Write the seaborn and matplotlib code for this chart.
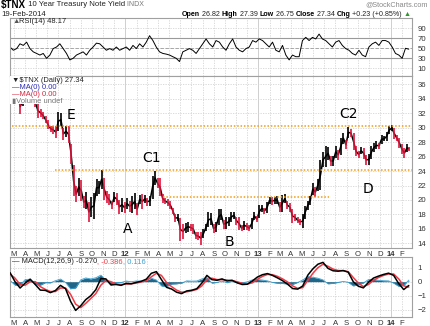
import numpy as np
import pandas as pd
import matplotlib
matplotlib.use("Agg")
import matplotlib.pyplot as plt
import matplotlib.dates as mdates
import seaborn as sns

# ---------------- data ----------------
week_low = [35.5, 34.1, 34.0, 33.6, 31.9, 33.0, 34.3, 34.5, 34.0, 33.6, 32.9, 31.4, 31.5, 31.2, 30.6,
            29.8, 29.4, 29.1, 28.6, 29.6, 30.2, 28.3, 28.7, 27.9, 25.0, 20.5, 19.7, 20.6, 19.9, 18.9,
            18.8, 17.0, 17.6, 17.4, 20.5, 20.8, 21.5, 20.0, 19.6, 19.3, 18.8, 19.7, 19.3, 18.1, 18.4,
            18.2,
            18.7, 18.4, 18.2, 18.7, 17.9, 19.5, 18.8, 19.6, 19.2, 19.2, 20.2, 22.1, 21.6, 20.5, 19.6,
            19.4, 19.2, 18.7, 18.1, 16.9, 17.1, 14.3, 14.6, 15.4, 15.6, 15.7, 15.3, 14.6, 14.4, 13.8,
            14.7, 15.7, 16.2, 16.6, 15.4, 15.6, 16.5, 17.3, 16.0, 16.0, 16.4, 16.9, 17.4, 16.6, 15.9,
            15.7, 15.9, 15.9, 15.7, 16.0, 17.2, 16.9,
            17.5, 18.4, 18.1, 18.2, 19.5, 19.3, 19.5, 19.5, 18.3, 18.4, 19.6, 18.8, 18.4, 16.8, 17.1,
            16.8, 16.6, 16.1, 17.4, 18.6, 19.3, 20.7, 20.4, 21.2, 21.4, 24.5, 24.6, 25.6, 24.7, 24.7,
            25.8, 25.6, 26.2, 27.8, 27.0, 28.6, 28.7, 26.9, 26.1, 25.8, 26.3, 25.7, 24.9, 24.8, 25.7,
            26.6, 27.0, 27.1, 27.8, 28.1, 28.2, 29.1,
            29.5, 28.4, 28.1, 27.2, 26.4, 25.8, 26.6, 26.75]
week_high = [36.3, 35.9, 35.8, 35.7, 33.9, 34.5, 35.4, 35.9, 35.8, 34.4, 33.9, 33.3, 32.6, 32.2, 31.6,
             31.0, 30.3, 30.3, 30.2, 32.2, 32.0, 30.0, 30.3, 30.3, 27.8, 24.8, 21.9, 23.0, 22.7, 20.5,
             21.1, 19.7, 20.4, 21.0, 22.9, 22.6, 24.2, 23.1, 21.2, 20.8, 19.9, 21.1, 20.9, 20.0, 20.3,
             19.7,
             20.3, 19.9, 20.5, 20.9, 19.6, 20.7, 20.8, 20.7, 20.3, 20.6, 23.3, 24.0, 23.0, 23.0, 20.8,
             20.3, 20.1, 19.9, 18.9, 18.1, 18.0, 17.5, 16.7, 16.8, 17.0, 16.7, 16.7, 15.6, 15.6, 15.6,
             16.0, 16.7, 18.3, 18.2, 16.7, 17.0, 18.8, 18.7, 17.3, 17.6, 17.6, 18.4, 18.4, 17.7, 17.6,
             16.5, 17.1, 16.8, 16.5, 17.5, 18.4, 17.8,
             19.3, 19.3, 18.9, 19.7, 20.4, 20.4, 20.4, 20.5, 19.7, 20.7, 20.8, 19.8, 19.6, 18.8, 18.1,
             17.6, 17.4, 18.0, 19.2, 19.9, 20.6, 22.3, 21.8, 22.9, 25.5, 26.6, 27.4, 27.3, 26.1, 26.1,
             27.5, 26.9, 28.6, 29.3, 28.3, 30.1, 29.8, 29.3, 27.4, 26.8, 27.3, 27.2, 26.2, 26.4, 27.5,
             27.9, 28.1, 27.9, 29.0, 28.8, 29.4, 30.2,
             30.4, 30.0, 29.0, 28.6, 27.7, 27.2, 27.8, 27.39]

rsi_values = [52.6, 46.1, 49.4, 59.0, 55.8, 62.3, 49.4, 42.9, 39.7, 36.5, 39.7, 30.0, 36.5, 49.4, 52.6,
              59.0, 49.4, 39.7, 26.8, 30.0, 36.5, 39.7, 42.9, 36.5, 46.1, 52.6, 60.3, 59.0, 52.6, 46.1,
              49.4, 46.1, 52.6, 46.1, 49.4, 52.6, 46.1, 55.8, 49.4, 59.0, 52.6, 62.3, 75.2, 65.5, 52.6,
              42.9, 39.7, 38.4, 36.5, 33.2, 30.0, 23.5, 42.9, 46.1, 49.4, 46.1, 39.7, 49.4, 59.0, 68.7,
              59.0, 52.6, 65.5, 62.3, 52.6, 46.1, 59.0, 68.7, 52.6, 46.1, 42.9, 49.4, 52.6, 65.5, 62.3,
              68.7, 65.5, 59.0, 52.6, 62.3, 46.1, 42.9, 55.8, 36.5, 26.8, 36.5, 33.2, 33.2, 65.5, 71.9,
              65.5, 71.9, 68.7, 78.4, 68.7, 65.5, 59.0, 52.6, 62.3, 65.5, 55.8, 49.4, 46.1, 39.7, 36.5,
              46.1, 36.5, 33.2, 52.6, 59.0, 62.3, 55.8, 65.5, 65.5, 62.3, 52.6, 39.7, 36.5, 30.0, 50.0,
              48.2]

macd_line = [0.65, 0.0, -0.45, -0.1, 0.18, -0.2, -0.6, -0.62, -0.78, -0.63, -0.26, -0.5, -1.4, -2.05,
             -1.72, -1.28, -1.0, -0.57, 0.22, 0.2, -0.23, -0.2, -0.26, -0.12, -0.15, -0.05, 0.03, 0.18,
             0.6, 0.72, 0.15, -0.4, -0.52, -0.75, -0.85, -0.66, -0.61, -0.5, -0.1, 0.45, 0.15, 0.1, 0.2,
             0.05, 0.1, -0.08, -0.2, -0.18, 0.05, 0.33, 0.5, 0.58, 0.45, 0.27, 0.07, -0.18, -0.49, -0.53,
             -0.3, 0.47, 0.92, 1.25, 1.38, 0.95, 0.78, 0.75, 0.8, 0.68, 0.0, -0.32, -0.44, -0.05, 0.26,
             0.4, 0.52, 0.61, 0.45, -0.13, -0.56, -0.27]
signal_line = [0.55, 0.25, -0.2, -0.25, 0.0, 0.0, -0.35, -0.55, -0.7, -0.7, -0.45, -0.45, -0.9, -1.6,
               -1.85, -1.55, -1.2, -0.85, -0.25, 0.1, 0.0, -0.15, -0.2, -0.17, -0.15, -0.1, -0.02, 0.08,
               0.35, 0.6, 0.45, -0.05, -0.35, -0.6, -0.75, -0.72, -0.65, -0.55, -0.3, 0.15, 0.25, 0.15,
               0.15, 0.12, 0.08, 0.0, -0.12, -0.17, -0.08, 0.17, 0.38, 0.52, 0.5, 0.38, 0.2, -0.02, -0.3,
               -0.48, -0.42, 0.1, 0.6, 1.0, 1.25, 1.1, 0.9, 0.8, 0.78, 0.72, 0.3, -0.1, -0.35, -0.2, 0.1,
               0.3, 0.45, 0.55, 0.55, 0.2, -0.3, -0.386]
macd_hist = [0.10, -0.25, -0.25, 0.15, 0.18, -0.2, -0.25, -0.07, -0.08, 0.07, 0.19, -0.05, -0.5, -0.45,
             0.13, 0.27, 0.2, 0.28, 0.47, 0.1, -0.23, -0.05, -0.06, 0.05, 0.0, 0.05, 0.05, 0.1, 0.25,
             0.12, -0.3, -0.35, -0.17, -0.15, -0.1, 0.06, 0.04, 0.05, 0.2, 0.3, -0.1, -0.05, 0.05, -0.07,
             0.02, -0.08, -0.08, -0.01, 0.13, 0.16, 0.12, 0.06, -0.05, -0.11, -0.13, -0.16, -0.19, -0.05,
             0.12, 0.37, 0.32, 0.25, 0.13, -0.15, -0.12, -0.05, 0.02, -0.04, -0.3, -0.22, -0.09, 0.15,
             0.16, 0.1, 0.07, 0.06, -0.1, -0.33, -0.26, 0.116]

level_values = [30.3, 24.1, 20.4]
level_starts = ["2011-02-23", "2011-06-23", "2012-04-14"]
level_ends = ["2014-02-27", "2014-02-27", "2013-07-14"]

wave_labels = ["E", "C1", "A", "B", "C2", "D"]
wave_dates = ["2011-08-05", "2012-03-14", "2012-01-08", "2012-10-15", "2013-09-06", "2013-10-29"]
wave_levels = [31.75, 25.8, 15.95, 14.2, 31.85, 21.5]

price_ticks = [14, 16, 18, 20, 22, 24, 26, 28, 30, 32, 34, 36]
rsi_ticks = [10, 30, 50, 70, 90]
macd_ticks = [-2, -1, 0, 1]
month_letters = ["J", "F", "M", "A", "M", "J", "J", "A", "S", "O", "N", "D"]

# ---------------- figure ----------------
sns.set_style("white")
plt.rcParams['font.family'] = ['Liberation Sans', 'DejaVu Sans']

W, H = 431, 326
fig = plt.figure(figsize=(W / 100, H / 100), dpi=100)


def rect(top, bottom, left=10, right=411.7):
    return [left / W, 1 - bottom / H, (right - left) / W, (bottom - top) / H]


ax_rsi = fig.add_axes(rect(18, 76))
ax_px = fig.add_axes(rect(76, 248))
ax_macd = fig.add_axes(rect(256.5, 317))

x0, x1 = pd.Timestamp("2011-02-18"), pd.Timestamp("2014-02-27")
month_starts = pd.date_range("2011-03-01", "2014-02-01", freq="MS")
month_labels = [(d.strftime("%y") if d.month == 1 else month_letters[d.month - 1]) for d in month_starts]

grid_c = "#d4d4d4"
spine_c = "#a0a0a0"
tick_fs = 5.6

for ax in (ax_rsi, ax_px, ax_macd):
    ax.set_xlim(x0, x1)
    for s in ax.spines.values():
        s.set_color(spine_c)
        s.set_linewidth(0.8)
    ax.yaxis.tick_right()
    ax.tick_params(axis="y", which="both", length=0, labelsize=tick_fs, labelcolor="#333333", pad=4)
    ax.tick_params(axis="x", length=0, labelsize=tick_fs, labelcolor="#333333", pad=2)
    ax.set_xticks(month_starts)
    for d in month_starts:
        ax.axvline(d, color="#c8c8c8" if d.month == 1 else grid_c, lw=0.6,
                   ls="-" if d.month == 1 else (0, (1.5, 1.5)), zorder=0)

# ---- RSI ----
rsi_dates = pd.date_range("2011-02-18", "2014-02-19", periods=len(rsi_values))
ax_rsi.set_ylim(-5.4, 110.6)
ax_rsi.set_yticks(rsi_ticks)
for t in rsi_ticks:
    ax_rsi.axhline(t, color=grid_c, lw=0.6, ls=(0, (1.5, 1.5)), zorder=0)
ax_rsi.axhline(70, color="#9a9a9a", lw=0.8, zorder=1)
ax_rsi.axhline(30, color="#9a9a9a", lw=0.8, zorder=1)
ax_rsi.axhline(50, color="#9a9a9a", lw=0.6, ls=(0, (4, 2)), zorder=1)
sns.lineplot(x=rsi_dates, y=rsi_values, ax=ax_rsi, color="black", lw=0.7)
ax_rsi.set_xticklabels([])
ax_rsi.set_xlabel("")

# ---- Price ----
week_dates = list(pd.date_range("2011-02-18", "2014-02-14", freq="W-FRI")) + [pd.Timestamp("2014-02-19")]
pdf = pd.DataFrame({"date": week_dates, "low": week_low, "high": week_high})
mid = (pdf["low"] + pdf["high"]) / 2
down = (mid < mid.shift(1)).to_numpy()
ax_px.set_ylim(13.36, 37.15)
ax_px.set_yticks(price_ticks)
for t in price_ticks:
    ax_px.axhline(t, color=grid_c, lw=0.6, ls=(0, (1.5, 1.5)), zorder=0)
sns.lineplot(x=pdf["date"], y=mid, ax=ax_px, color="black", lw=1.1, zorder=2)
ax_px.vlines(pdf["date"][~down], pdf["low"][~down], pdf["high"][~down], color="black", lw=1.2, zorder=3)
ax_px.vlines(pdf["date"][down], pdf["low"][down], pdf["high"][down], color="#e0143c", lw=1.2, zorder=3)
ax_px.set_ylabel("")
ax_px.set_xlabel("")

for lv, s, e in zip(level_values, level_starts, level_ends):
    ax_px.hlines(lv, pd.Timestamp(s), pd.Timestamp(e), color="#f39c12", lw=1.1,
                 ls=(0, (1, 1.2)), zorder=4)

for lab, d, lv in zip(wave_labels, wave_dates, wave_levels):
    ax_px.text(pd.Timestamp(d), lv, lab, fontsize=10, ha="center", va="center", color="black",
               family="DejaVu Sans", zorder=6)

# ---- MACD ----
macd_dates = pd.date_range("2011-02-18", "2014-02-19", periods=len(macd_line))
ax_macd.set_ylim(-2.52, 1.8)
ax_macd.set_yticks(macd_ticks)
for t in macd_ticks:
    ax_macd.axhline(t, color=grid_c, lw=0.6, ls=(0, (1.5, 1.5)), zorder=0)
ax_macd.fill_between(macd_dates, 0, macd_hist, color="#1f6688", lw=0, zorder=2)
ax_macd.plot(macd_dates, macd_hist, color="#3aa0d0", lw=0.6, zorder=2)
sns.lineplot(x=macd_dates, y=signal_line, ax=ax_macd, color="#f03a46", lw=1.1, zorder=3)
sns.lineplot(x=macd_dates, y=macd_line, ax=ax_macd, color="black", lw=1.1, zorder=4)
ax_macd.set_xlabel("")
ax_macd.set_ylabel("")

for ax in (ax_px, ax_macd):
    ax.set_xticklabels(month_labels)
    for lbl, d in zip(ax.get_xticklabels(), month_starts):
        if d.month == 1:
            lbl.set_fontweight("bold")

# ---------------- texts ----------------
renderer = fig.canvas.get_renderer()


def seq_text(x_px, y_px, parts, align="left"):
    items = []
    x = x_px
    for s, color, weight, size in parts:
        t = fig.text(x / W, 1 - y_px / H, s, color=color, fontweight=weight, fontsize=size,
                     va="center", ha="left", zorder=10)
        w = t.get_window_extent(renderer=renderer).width
        items.append((t, x))
        x += w
    if align == "right":
        shift = x - x_px
        for t, xx in items:
            t.set_x((xx - shift) / W)
    return x


seq_text(1, 5, [("$TNX", "black", "bold", 7.0), (" 10 Year Treasury Note Yield", "#222222", "normal", 5.6),
                (" INDX", "#777777", "normal", 5.0)])
fig.text(428 / W, 1 - 5 / H, "@StockCharts.com", fontsize=5.2, color="#888888", ha="right", va="center")
fig.text(1 / W, 1 - 14 / H, "19-Feb-2014", fontsize=5.6, color="#222222", ha="left", va="center")
fs_h = 5.1
seq_text(411, 14, [("Open", "black", "bold", fs_h), (" 26.82 ", "#222222", "normal", fs_h),
                   ("High", "black", "bold", fs_h), (" 27.39 ", "#222222", "normal", fs_h),
                   ("Low", "black", "bold", fs_h), (" 26.75 ", "#222222", "normal", fs_h),
                   ("Close", "black", "bold", fs_h), (" 27.34 ", "#222222", "normal", fs_h),
                   ("Chg", "black", "bold", fs_h), (" +0.23 (+0.85%) ", "#222222", "normal", fs_h),
                   ("\u25b2", "#2a9a2a", "normal", fs_h)], align="right")

# panel legends
seq_text(12, 21.5, [("\u25b2", "#555555", "normal", 5.4), ("RSI(14) 48.17", "#222222", "normal", 5.4)])

ax_px.add_patch(plt.Rectangle((0.0, 0.835), 0.115, 0.165, transform=ax_px.transAxes,
                              facecolor="white", edgecolor="none", zorder=8))
fig.text(12 / W, 1 - 80.5 / H, "\u25bc$TNX (Daily) 27.34", fontsize=5.4, color="#222222",
         ha="left", va="center", zorder=10)
fig.text(12 / W, 1 - 87.5 / H, "\u2014MA(0) 0.00", fontsize=5.4, color="#2b2bb0", ha="left", va="center", zorder=10)
fig.text(12 / W, 1 - 94.5 / H, "\u2014MA(0) 0.00", fontsize=5.4, color="#d8243c", ha="left", va="center", zorder=10)
fig.text(12 / W, 1 - 101 / H, "\u25aeVolume undef", fontsize=5.4, color="#777777", ha="left", va="center", zorder=10)

seq_text(12, 261.5, [("\u2014 MACD(12,26,9) -0.270", "#222222", "normal", 5.4),
                     (", -0.386", "#f03a46", "normal", 5.4), (", 0.116", "#3aa0d0", "normal", 5.4)])

fig.savefig("out.png", dpi=100)
